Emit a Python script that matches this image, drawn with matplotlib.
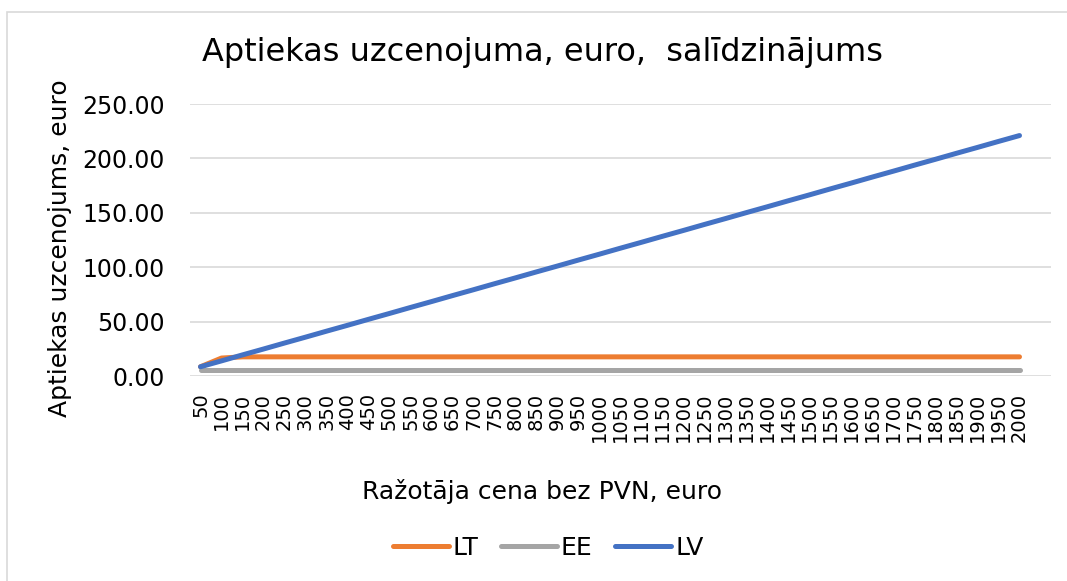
import matplotlib.pyplot as plt
import matplotlib.patches as patches
import numpy as np

# prices (categories) and markups, euro
prices = [50, 100, 150, 200, 250, 300, 350, 400, 450, 500, 550, 600, 650, 700, 750, 800,
          850, 900, 950, 1000, 1050, 1100, 1150, 1200, 1250, 1300, 1350, 1400, 1450, 1500,
          1550, 1600, 1650, 1700, 1750, 1800, 1850, 1900, 1950, 2000]
lt = [8.5, 16.5] + [17.6] * 38
ee = [5.5] * 40
lv = [8.5, 13.9, 19.4, 24.8, 30.3, 35.7, 41.2, 46.6, 52.1, 57.5, 63.0, 68.4, 73.9, 79.3,
      84.8, 90.2, 95.7, 101.1, 106.6, 112.0, 117.5, 122.9, 128.4, 133.8, 139.3, 144.7,
      150.2, 155.6, 161.1, 166.5, 172.0, 177.4, 182.9, 188.3, 193.8, 199.2, 204.7, 210.1,
      215.6, 221.0]

W, H = 1067, 581
fig = plt.figure(figsize=(W / 100, H / 100), dpi=100, facecolor='w')
ax = fig.add_axes([190 / W, 1 - 376 / H, (1051 - 190) / W, (376 - 104) / H])

x = np.arange(len(prices))
ax.plot(x, lt, color='#ED7D31', lw=3.6, solid_capstyle='round', label='LT')
ax.plot(x, ee, color='#A5A5A5', lw=3.6, solid_capstyle='round', label='EE')
ax.plot(x, lv, color='#4472C4', lw=3.6, solid_capstyle='round', label='LV')

ax.set_xlim(-0.5, len(prices) + 0.5)
ax.set_ylim(0, 250)
ax.set_yticks(np.arange(0, 251, 50))
ax.set_yticklabels(['%.2f' % v for v in np.arange(0, 251, 50)])
ax.set_xticks(x)
ax.set_xticklabels([str(p) for p in prices], rotation=90)
ax.tick_params(axis='both', length=0, colors='black')
ax.tick_params(axis='y', pad=18, labelsize=17)
ax.tick_params(axis='x', pad=12, labelsize=14)
ax.grid(axis='y', color='#D9D9D9', lw=1.2)
ax.set_axisbelow(True)
for s in ax.spines.values():
    s.set_visible(False)

fig.text(543 / W, 1 - 52 / H, 'Aptiekas uzcenojuma, euro,  salīdzinājums',
         ha='center', va='center', fontsize=23)
fig.text(60 / W, 1 - 248 / H, 'Aptiekas uzcenojums, euro', rotation=90,
         ha='center', va='center', fontsize=18)
fig.text(542 / W, 1 - 492 / H, 'Ražotāja cena bez PVN, euro',
         ha='center', va='center', fontsize=18)

leg = fig.legend(loc='center', bbox_to_anchor=(548 / W, 1 - 548 / H), ncol=3,
                 frameon=False, fontsize=18, handlelength=2.25, handletextpad=0.15,
                 columnspacing=0.9)

# light chart border
fig.patches.append(patches.Rectangle((7 / W, -0.1), 1.2, 1.1 - 12 / H, transform=fig.transFigure,
                                     fill=False, edgecolor='#D9D9D9', lw=1.2))

fig.savefig('out.png', dpi=100)
